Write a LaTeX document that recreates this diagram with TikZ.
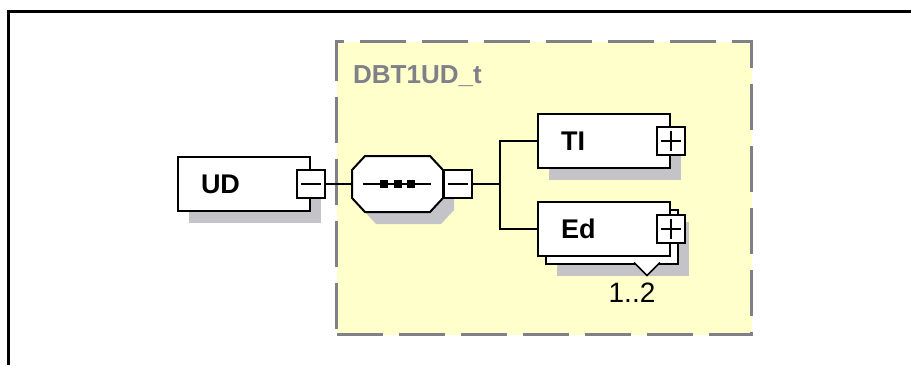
\documentclass[tikz,border=0pt]{standalone}
\usepackage{fontspec}
\setmainfont{Liberation Sans}
\usetikzlibrary{shadows}
\definecolor{groupfill}{RGB}{255,255,204}
\definecolor{groupline}{RGB}{128,128,136}
\definecolor{shadowgray}{RGB}{196,196,200}

\begin{document}
\begin{tikzpicture}[
    x=1pt, y=-1pt,
    elem/.style={draw, line width=2pt, fill=white, minimum width=132pt, minimum height=54pt,
      text width=86pt, inner xsep=23pt, inner ysep=0pt, align=left,
      font=\fontsize{27}{30}\selectfont\bfseries},
    boxshadow/.style={drop shadow={shadow xshift=11pt, shadow yshift=-12pt, fill=shadowgray, opacity=1}},
    pmbox/.style={draw, line width=2pt, fill=white, minimum size=28pt, inner sep=0pt},
    sign/.style={line width=2pt},
    conn/.style={line width=2pt}
  ]
  \useasboundingbox (0,0) rectangle (911,365);
  \fill (7,10) rectangle (10,365);
  \fill (7,10) rectangle (911,13);

  \node[draw=groupline, fill=groupfill, line width=3pt, dash pattern=on 46pt off 16pt,
    minimum width=415pt, minimum height=293pt, inner sep=0pt, anchor=north west] (group) at (335,40) {};
  \node[anchor=base west, inner sep=0pt, text=groupline, font=\fontsize{26}{30}\selectfont\bfseries] (grouplabel) at (353,83) {DBT1UD\_t};

  \node[elem, boxshadow] (ud) at (244,184) {UD};
  \node[pmbox] (udsign) at (ud.east) {};

  \node[inner sep=0pt, minimum width=91pt, minimum height=55pt] (seq) at (397.5,184) {};
  \fill[shadowgray, shift={(11,12)}] (352,170) -- (365,156) -- (430,156) -- (443,170) -- (443,198) -- (430,212) -- (365,212) -- (352,198) -- cycle;
  \filldraw[fill=white, line width=2pt] (352,170) -- (365,156) -- (430,156) -- (443,170) -- (443,198) -- (430,212) -- (365,212) -- (352,198) -- cycle;
  \draw[sign] ([xshift=11pt]seq.west) -- ([xshift=-12pt]seq.east);
  \foreach \x in {384,397.5,411}
    \fill (\x-4,180) rectangle (\x+4,188);
  \node[pmbox, anchor=west] (seqsign) at (seq.east) {};

  \node[elem, boxshadow] (ti) at (604,141) {TI};
  \node[pmbox] (tisign) at (ti.east) {};

  \node[elem, boxshadow] (edback) at (612,237) {};
  \node[elem] (ed) at (604,229) {Ed};
  \node[pmbox] (edsign) at (ed.east) {};

  \foreach \s in {udsign, seqsign, tisign, edsign}
    \draw[sign] ([xshift=5pt]\s.west) -- ([xshift=-5pt]\s.east);
  \foreach \s in {tisign, edsign}
    \draw[sign] ([yshift=-5pt]\s.north) -- ([yshift=5pt]\s.south);

  \coordinate (fork) at (500,184);
  \draw[conn] (udsign.east) -- (seq.west);
  \draw[conn] (seqsign.east) -- (fork);
  \draw[conn] (ti.west) -| (fork) |- (ed.west);

  \fill[white] (634,263) -- (647,276) -- (660,263) -- cycle;
  \draw[line width=1.5pt] (634,262.5) -- (647,275.5) -- (660,262.5);
  \node[inner sep=0pt, font=\fontsize{28}{30}\selectfont] (mult) at (632,292.5) {1..2};
\end{tikzpicture}
\end{document}
